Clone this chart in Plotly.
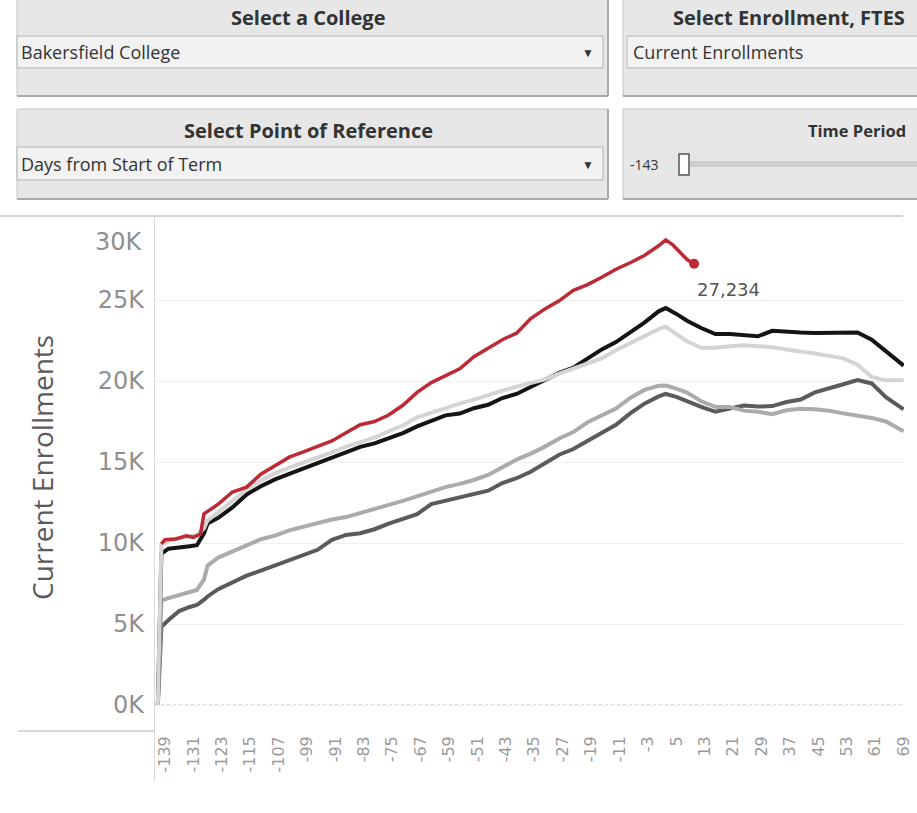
import plotly.graph_objects as go

# ---------------- data ----------------
days = [-141, -140, -138, -135, -132, -130, -128, -127,
        -124, -120, -116, -112, -108, -104, -100, -96, -92, -88, -84, -80,
        -76, -72, -68, -64, -60, -56, -52, -48, -44, -40, -36, -32, -28, -24,
        -20, -16, -12, -8, -4, 0, 2, 5, 8,
        12, 16, 20, 24, 28, 32, 36, 40, 44, 48, 52, 56, 60, 64, 68, 69]

series_black = [0, 9350, 9650, 9700, 9800, 9860, 10600, 11200,
                11550, 12200, 13000, 13500, 13930, 14270, 14600, 14920, 15250, 15580, 15930, 16150,
                16450, 16780, 17200, 17550, 17880, 17990, 18320, 18530, 18950, 19200, 19640, 20080, 20500, 20820,
                21400, 21950, 22400, 23000, 23600, 24300, 24500, 24140, 23720,
                23270, 22900, 22900, 22830, 22760, 23100, 23020, 22990, 22970, 22960, 22960, 23000, 22550, 21850, 21150,
                20950]

series_light = [0, 9900, 10150, 10300, 10450, 10500, 10900, 11400,
                11900, 12600, 13300, 13850, 14300, 14650, 14950, 15300, 15600, 15950, 16250, 16500,
                16900, 17250, 17750, 18050, 18300, 18600, 18850, 19150, 19400, 19650, 19850, 20100, 20450, 20750,
                21050, 21400, 21900, 22350, 22750, 23200, 23350, 22900, 22450,
                22050, 22050, 22150, 22200, 22150, 22090, 21950, 21850, 21700, 21550, 21400, 21000, 20250, 20040, 20040,
                20040]

series_mid = [0, 6450, 6600, 6800, 6950, 7100, 7750, 8600,
              9100, 9500, 9850, 10230, 10450, 10780, 11000, 11200, 11450, 11600, 11830, 12080,
              12350, 12600, 12900, 13150, 13450, 13650, 13890, 14200, 14650, 15150, 15520, 15950, 16450, 16850,
              17450, 17850, 18300, 18950, 19450, 19700, 19720, 19530, 19280,
              18750, 18400, 18390, 18170, 18100, 17950, 18190, 18280, 18250, 18170, 18000, 17880, 17720, 17500, 17000,
              16900]

series_dark = [0, 4830, 5250, 5800, 6050, 6170, 6500, 6700,
               7150, 7550, 7980, 8300, 8630, 8950, 9300, 9580, 10200, 10500, 10600, 10850,
               11200, 11500, 11780, 12400, 12620, 12850, 13060, 13230, 13700, 14000, 14400, 14900, 15450, 15800,
               16280, 16750, 17300, 18000, 18600, 19050, 19200, 19020, 18750,
               18400, 18100, 18290, 18480, 18420, 18450, 18700, 18860, 19300, 19580, 19800, 20060, 19850, 19000, 18350,
               18250]

red_days = [-140, -139, -136, -133, -131, -129, -128,
            -124, -120, -116, -112, -108, -104, -100, -96, -92, -88, -84, -80,
            -76, -72, -68, -64, -60, -56, -52, -48, -44, -40, -36, -32, -28, -24,
            -20, -16, -12, -8, -4, 0, 2, 4, 6, 8, 10]
series_red = [9950, 10200, 10250, 10450, 10350, 10550, 11800,
              12400, 13150, 13450, 14250, 14750, 15300, 15620, 15950, 16300, 16800, 17300, 17500,
              17900, 18500, 19300, 19900, 20300, 20750, 21500, 22050, 22550, 22950, 23850, 24450, 24950, 25600,
              25950, 26400, 26900, 27300, 27750, 28350, 28710, 28400, 27950, 27500, 27234]

x_tick_vals = list(range(-139, 70, 8))
y_tick_vals = [0, 5000, 10000, 15000, 20000, 25000, 30000]
y_tick_text = ["0K", "5K", "10K", "15K", "20K", "25K", "30K"]

# ---------------- layout geometry (pixels) ----------------
FW, FH = 917, 813
L, R, T, B = 155, 904, 219, 728
PW, PH = R - L, B - T


def xp(px):
    return (px - L) / PW


def yp(py):
    return (B - py) / PH


fig = go.Figure()

styles = [
    (series_dark, "#5b5b5b", 4),
    (series_mid, "#ababab", 4),
    (series_black, "#141414", 4),
    (series_light, "#d4d4d4", 4),
]
for vals, col, w in styles:
    fig.add_trace(go.Scatter(x=days, y=vals, mode="lines",
                             line=dict(color=col, width=w), hoverinfo="skip"))

fig.add_trace(go.Scatter(x=red_days, y=series_red, mode="lines",
                         line=dict(color="#bd2a35", width=3.5), hoverinfo="skip"))
fig.add_trace(go.Scatter(x=[red_days[-1]], y=[series_red[-1]], mode="markers",
                         marker=dict(color="#bd2a35", size=10), hoverinfo="skip"))

shapes = []
annotations = []


def rect(x0, y0, x1, y1, fill, line_col, lw=1):
    shapes.append(dict(type="rect", xref="paper", yref="paper",
                       x0=xp(x0), x1=xp(x1), y0=yp(y1), y1=yp(y0),
                       fillcolor=fill, line=dict(color=line_col, width=lw)))


def hline(x0, x1, y, col, lw=1):
    shapes.append(dict(type="line", xref="paper", yref="paper",
                       x0=xp(x0), x1=xp(x1), y0=yp(y), y1=yp(y),
                       line=dict(color=col, width=lw)))


def vline(x, y0, y1, col, lw=1):
    shapes.append(dict(type="line", xref="paper", yref="paper",
                       x0=xp(x), x1=xp(x), y0=yp(y0), y1=yp(y1),
                       line=dict(color=col, width=lw)))


def text(s, x, y, size, col="#333333", bold=False, anchor="left", family="Open Sans"):
    annotations.append(dict(text=s, xref="paper", yref="paper", x=xp(x), y=yp(y),
                            xanchor=anchor, yanchor="middle", showarrow=False,
                            font=dict(family=family, size=size, color=col,
                                      weight="bold" if bold else "normal")))


# --- filter cards ---
for (bx0, by0, bx1, by1) in [(17, -3, 608, 96), (623, -3, 940, 96),
                             (17, 109, 608, 199), (623, 109, 940, 199)]:
    rect(bx0, by0, bx1, by1, "#e7e7e7", "#c4c4c4", 1)
    hline(bx0, bx1, by1, "#a9a9a9", 2)
    vline(bx1, by0, by1, "#a9a9a9", 2)

for (dx0, dy0, dx1, dy1) in [(17, 36, 603, 68), (627, 36, 940, 68), (17, 147, 603, 180)]:
    rect(dx0, dy0, dx1, dy1, "#f2f2f2", "#b4b4b4", 1)

# slider
rect(690, 161, 940, 167, "#cdcdcd", "#cdcdcd", 0)
rect(679, 154, 689, 175, "#ffffff", "#555555", 1.5)

text("Select a College", 308, 18, 20, bold=True, anchor="center")
text("Select Enrollment, FTES", 671, 18, 20, bold=True)
text("Select Point of Reference", 308, 131, 20, bold=True, anchor="center")
text("Time Period", 806, 131, 16.5, bold=True)
text("Bakersfield College", 19, 52, 18)
text("Current Enrollments", 631, 52, 18)
text("Days from Start of Term", 19, 164, 18)
text("▼", 588, 52, 12, anchor="center")
text("▼", 588, 164, 12, anchor="center")
text("-143", 628, 165, 14)

# --- chart frame lines ---
hline(0, 903, 216, "#d2d2d2", 2)
vline(154.5, 216, 782, "#d9d9d9", 1)
hline(18, 155, 731, "#c8c8c8", 1.5)

# dotted zero line
shapes.append(dict(type="line", xref="paper", yref="y", x0=0, x1=1, y0=0, y1=0,
                   line=dict(color="#bdbdbd", width=1, dash="dot"), layer="below"))

# y-axis title
annotations.append(dict(text="Current Enrollments", xref="paper", yref="paper",
                        x=xp(42), y=yp(468), textangle=-90, showarrow=False,
                        xanchor="center", yanchor="middle",
                        font=dict(family="Open Sans", size=28, color="#5a5a5a")))
# top tick label (Tableau shifts it inside the pane)
annotations.append(dict(text=y_tick_text[-1], xref="paper", yref="paper",
                        x=xp(145), y=yp(242), showarrow=False,
                        xanchor="right", yanchor="middle",
                        font=dict(family="DejaVu Sans", size=24, color="#8f8f8f")))
# end-point label
annotations.append(dict(text=f"{series_red[-1]:,}", x=red_days[-1], y=series_red[-1],
                        xref="x", yref="y", showarrow=False, xanchor="left",
                        yanchor="middle", xshift=1, yshift=-26,
                        font=dict(family="DejaVu Sans", size=18, color="#555555")))

fig.update_layout(
    width=FW, height=FH,
    margin=dict(l=L, r=FW - R, t=T, b=FH - B, pad=0),
    paper_bgcolor="white", plot_bgcolor="white",
    showlegend=False,
    font=dict(family="Open Sans", color="#555555"),
    shapes=shapes, annotations=annotations,
    xaxis=dict(range=[-141.8, 69.1], tickmode="array", tickvals=x_tick_vals,
               ticktext=[str(v) for v in x_tick_vals], tickangle=-90,
               showgrid=False, zeroline=False, showline=False,
               ticks="", ticklabelstandoff=4, automargin=False,
               tickfont=dict(family="DejaVu Sans", size=16, color="#9a9a9a")),
    yaxis=dict(range=[-1420, 30000], tickmode="array", tickvals=y_tick_vals,
               ticktext=y_tick_text[:-1] + [""],
               showgrid=True, gridcolor="#efefef", gridwidth=1,
               zeroline=False, showline=False, ticks="",
               ticklabelstandoff=10, automargin=False,
               tickfont=dict(family="DejaVu Sans", size=24, color="#8f8f8f")),
)

fig.write_html("out.html", config={"displayModeBar": False},
               post_script="document.body.style.margin='0';")
